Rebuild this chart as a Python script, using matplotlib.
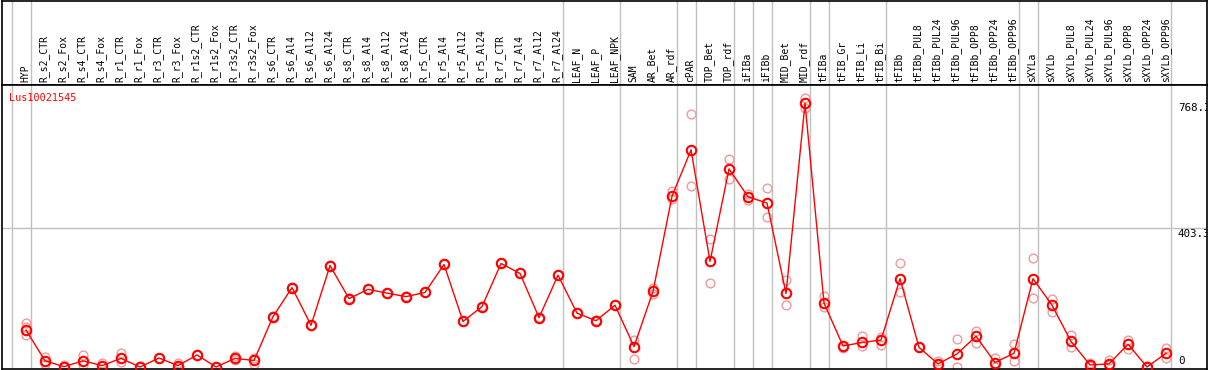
import matplotlib
matplotlib.use("Agg")
import matplotlib.pyplot as plt
import matplotlib.transforms as mtransforms

# sample names, left to right
samples = [
    "HYP", "R_s2_CTR", "R_s2_Fox", "R_s4_CTR", "R_s4_Fox", "R_r1_CTR", "R_r1_Fox",
    "R_r3_CTR", "R_r3_Fox", "R_r1s2_CTR", "R_r1s2_Fox", "R_r3s2_CTR", "R_r3s2_Fox",
    "R_s6_CTR", "R_s6_Al4", "R_s6_Al12", "R_s6_Al24", "R_s8_CTR", "R_s8_Al4",
    "R_s8_Al12", "R_s8_Al24", "R_r5_CTR", "R_r5_Al4", "R_r5_Al12", "R_r5_Al24",
    "R_r7_CTR", "R_r7_Al4", "R_r7_Al12", "R_r7_Al24", "LEAF_N", "LEAF_P", "LEAF_NPK",
    "SAM", "AR_Bet", "AR_rdf", "cPAR", "TOP_Bet", "TOP_rdf", "iFIBa", "iFIBb",
    "MID_Bet", "MID_rdf", "tFIBa", "tFIB_Gr", "tFIB_Li", "tFIB_Bi", "tFIBb",
    "tFIBb_PUL8", "tFIBb_PUL24", "tFIBb_PUL96", "tFIBb_OPP8", "tFIBb_OPP24", "tFIBb_OPP96",
    "sXYLa", "sXYLb", "sXYLb_PUL8", "sXYLb_PUL24", "sXYLb_PUL96", "sXYLb_OPP8",
    "sXYLb_OPP24", "sXYLb_OPP96",
]

# mean expression per sample
means = [
    107, 18, 1, 18, 4, 25, 0, 26, 4, 35, 0, 25, 19,
    146, 230, 121, 294, 198, 225, 214, 204, 216, 297, 132, 175,
    300, 271, 143, 266, 156, 134, 179,
    59, 219, 495, 629, 306, 574, 493, 475, 213, 764,
    185, 61, 71, 78, 256,
    57, 9, 38, 89, 13, 40,
    256, 179, 74, 6, 9, 66, 0, 40,
]

# replicate values per sample
replicates = [
    [127, 117, 94], [28, 9], [6, 0], [35, 6], [11, 2], [41, 14], [0, 2],
    [26, 27], [11, 1], [35, 36], [0, 1], [31, 19], [25, 10],
    [146, 147], [230, 231], [121, 122], [294, 295], [198, 199], [225, 226],
    [214, 215], [204, 205], [216, 217], [297, 298], [132, 133], [175, 176],
    [300, 301], [271, 272], [143, 144], [266, 267], [156, 157], [134, 135], [179, 180],
    [78, 23], [230, 211], [509, 487], [733, 525], [371, 242], [603, 545],
    [502, 483], [519, 435], [251, 179], [779, 750],
    [206, 175], [54, 60], [90, 60], [87, 64], [300, 216],
    [57, 58], [16, 5], [81, 0], [105, 69], [26, 0], [66, 16],
    [317, 201], [196, 160], [92, 57], [12, 2], [21, 5], [79, 52], [2, 0], [55, 25],
]

# gray separators drawn just right of these sample indices
separators = [-1, 0, 28, 31, 34, 35, 37, 38, 39, 41, 42, 45, 52, 53, 60]

y_ticks = [0, 403.3, 768.3]
gene = "Lus10021545"

W, H = 1209, 370
fig = plt.figure(figsize=(W / 100, H / 100), dpi=100)
left = 1.5 / W
width = 1205 / W
ax_lab = fig.add_axes([left, (H - 85) / H, width, 84.5 / H])
ax = fig.add_axes([left, 1.5 / H, width, (368.5 - 85) / H], sharex=ax_lab)

x = list(range(len(samples)))
px_per_unit = 0.3464
ax.set_xlim(-1.29, 62.13)
ax.set_ylim(-1.5 / px_per_unit, (368 - 85) / px_per_unit)
ax_lab.set_ylim(0, 1)

gray = "#c0c0c0"
for a in (ax, ax_lab):
    for s in separators:
        a.axvline(s + 0.24, color=gray, lw=1, zorder=0)
    a.set_xticks([])
    a.set_yticks([])
    for sp in a.spines.values():
        sp.set_color("black")
        sp.set_linewidth(1.2)

ax.axhline(y_ticks[1], color=gray, lw=1, zorder=0)

# replicates
for i, reps in enumerate(replicates):
    ax.plot([i] * len(reps), reps, linestyle="none", marker="o", ms=6.3,
            mfc="none", mec="#f09a9a", mew=1.0, zorder=2)

# mean line
ax.plot(x, means, color="red", lw=1.0, marker="o", ms=6.8, mfc="none",
        mec="red", mew=1.5, zorder=3)

# sample labels
for i, name in enumerate(samples):
    ax_lab.text(i - 0.05, 0.03, name, rotation=90, ha="center", va="bottom",
                fontsize=7, family="DejaVu Sans Mono", color="black")

ax.text(0.006, (368 - 97) / 283.5, gene, transform=ax.transAxes, color="red",
        fontsize=7.3, family="DejaVu Sans Mono", va="center", ha="left")

# value labels on the right
tr = mtransforms.blended_transform_factory(fig.transFigure, ax.transData)
down = mtransforms.ScaledTranslation(0, -1 / 100, fig.dpi_scale_trans)
xl = 1178 / W
ax.text(xl, y_ticks[2], "768.3", transform=tr + down, fontsize=7.8,
        family="DejaVu Sans Mono", va="top", ha="left", clip_on=True)
ax.text(xl, y_ticks[1], "403.3", transform=tr + down, fontsize=7.8,
        family="DejaVu Sans Mono", va="top", ha="left", clip_on=True)
ax.text(xl, 6 / px_per_unit, "0", transform=tr, fontsize=7.8,
        family="DejaVu Sans Mono", va="center", ha="left")

fig.savefig("out.png", dpi=100)
